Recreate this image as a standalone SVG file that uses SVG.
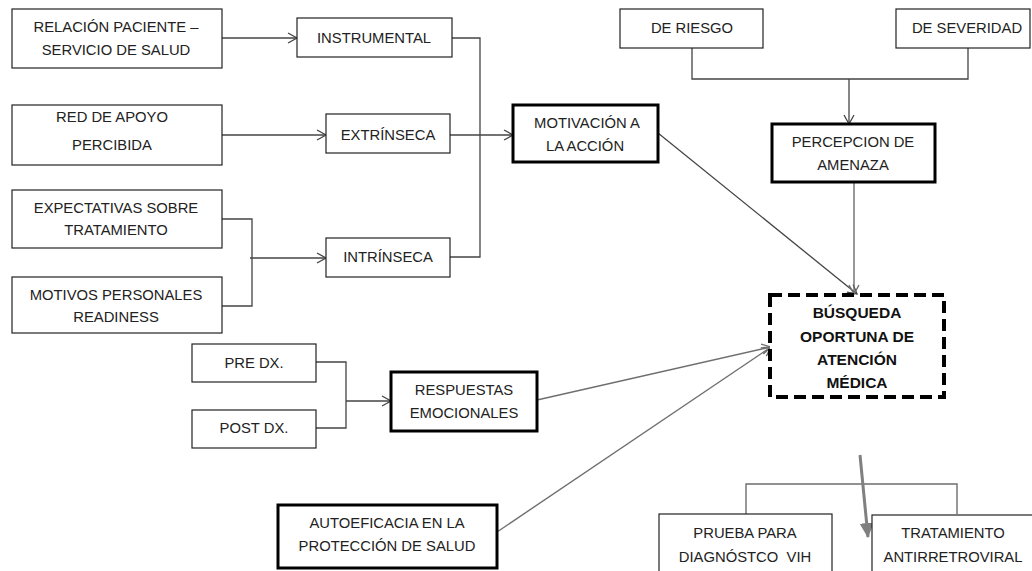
<svg xmlns="http://www.w3.org/2000/svg" width="1032" height="571" viewBox="0 0 1032 571">
  <style>
    .box { fill: #fff; stroke: #222; stroke-width: 1.2; }
    .thick { fill: #fff; stroke: #000; stroke-width: 3; }
    .dash { fill: #fff; stroke: #000; stroke-width: 4; stroke-dasharray: 12 6; }
    .lbl { font-family: "Liberation Sans", Arial, sans-serif; font-size: 14.8px; fill: #222; text-anchor: middle; }
    .bold { font-family: "Liberation Sans", Arial, sans-serif; font-size: 15.5px; font-weight: bold; fill: #111; text-anchor: middle; }
    .ln { fill: none; stroke: #444; stroke-width: 1.3; }
    .lg { fill: none; stroke: #6e6e6e; stroke-width: 1.4; }
    .lthick { fill: none; stroke: #808080; stroke-width: 3; }
  </style>
  <defs>
    <marker id="open" markerWidth="12" markerHeight="12" refX="10" refY="6" orient="auto" markerUnits="userSpaceOnUse">
      <path d="M1,1 L10,6 L1,11" fill="none" stroke="#444" stroke-width="1.3"/>
    </marker>
    <marker id="openg" markerWidth="12" markerHeight="12" refX="10" refY="6" orient="auto" markerUnits="userSpaceOnUse">
      <path d="M1,1 L10,6 L1,11" fill="none" stroke="#6e6e6e" stroke-width="1.4"/>
    </marker>
    <marker id="solid" markerWidth="16" markerHeight="16" refX="14" refY="8" orient="auto" markerUnits="userSpaceOnUse">
      <path d="M0,1 L15,8 L0,15 Z" fill="#808080"/>
    </marker>
  </defs>

  <rect width="1032" height="571" fill="#fff"/>

  <!-- connectors -->
  <g id="connectors">
    <path class="ln" d="M222,38 H297" marker-end="url(#open)"/>
    <path class="ln" d="M222,135 H326" marker-end="url(#open)"/>
    <path class="ln" d="M222,219 H252 V306 H222"/>
    <path class="ln" d="M250,258 H326" marker-end="url(#open)"/>
    <path class="ln" d="M452,38 H480 V257 H450"/>
    <path class="ln" d="M450,135 H513" marker-end="url(#open)"/>
    <path class="ln" d="M692,48 V79 H968 V48"/>
    <path class="ln" d="M849,79 V124" marker-end="url(#open)"/>
    <path class="ln" d="M658,133 L857,294" marker-end="url(#open)"/>
    <path class="lg" d="M854,182 V294" marker-end="url(#openg)"/>
    <path class="ln" d="M316,362 H346 V428 H316"/>
    <path class="ln" d="M346,401 H391" marker-end="url(#open)"/>
    <path class="lg" d="M537,400 L771,347" marker-end="url(#openg)"/>
    <path class="lg" d="M497,532 L771,347" marker-end="url(#openg)"/>
    <path class="lg" d="M746,514 V484 H957 V514"/>
    <path class="lthick" d="M860,455 L868,537" marker-end="url(#solid)"/>
  </g>

  <g id="relacion">
    <rect class="box" x="12" y="9" width="210" height="59"/>
    <text class="lbl" x="116" y="32">RELACIÓN PACIENTE –</text>
    <text class="lbl" x="116" y="55">SERVICIO DE SALUD</text>
  </g>
  <g id="instrumental">
    <rect class="box" x="297" y="18" width="155" height="39"/>
    <text class="lbl" x="374" y="43">INSTRUMENTAL</text>
  </g>
  <g id="red-apoyo">
    <rect class="box" x="12" y="105" width="210" height="60"/>
    <text class="lbl" x="112" y="122">RED DE APOYO</text>
    <text class="lbl" x="112" y="150">PERCIBIDA</text>
  </g>
  <g id="extrinseca">
    <rect class="box" x="326" y="114" width="124" height="39"/>
    <text class="lbl" x="388" y="140">EXTRÍNSECA</text>
  </g>
  <g id="expectativas">
    <rect class="box" x="12" y="190" width="210" height="58"/>
    <text class="lbl" x="116" y="213">EXPECTATIVAS SOBRE</text>
    <text class="lbl" x="116" y="235">TRATAMIENTO</text>
  </g>
  <g id="motivos">
    <rect class="box" x="12" y="277" width="210" height="56"/>
    <text class="lbl" x="116" y="300">MOTIVOS PERSONALES</text>
    <text class="lbl" x="116" y="322">READINESS</text>
  </g>
  <g id="intrinseca">
    <rect class="box" x="326" y="238" width="124" height="39"/>
    <text class="lbl" x="388" y="262">INTRÍNSECA</text>
  </g>
  <g id="motivacion">
    <rect class="thick" x="513" y="105" width="145" height="57"/>
    <text class="lbl" x="587" y="128">MOTIVACIÓN A</text>
    <text class="lbl" x="585" y="151">LA ACCIÓN</text>
  </g>
  <g id="de-riesgo">
    <rect class="box" x="620" y="9" width="143" height="39"/>
    <text class="lbl" x="692" y="33">DE RIESGO</text>
  </g>
  <g id="de-severidad">
    <rect class="box" x="896" y="9" width="134" height="39"/>
    <text class="lbl" x="967" y="33">DE SEVERIDAD</text>
  </g>
  <g id="percepcion">
    <rect class="thick" x="772" y="124" width="163" height="58"/>
    <text class="lbl" x="853" y="147">PERCEPCION DE</text>
    <text class="lbl" x="853" y="170">AMENAZA</text>
  </g>
  <g id="busqueda">
    <rect class="dash" x="770" y="295" width="174" height="102"/>
    <text class="bold" x="857" y="318">BÚSQUEDA</text>
    <text class="bold" x="857" y="342">OPORTUNA DE</text>
    <text class="bold" x="857" y="365">ATENCIÓN</text>
    <text class="bold" x="857" y="388">MÉDICA</text>
  </g>
  <g id="pre-dx">
    <rect class="box" x="192" y="344" width="124" height="38"/>
    <text class="lbl" x="254" y="368">PRE DX.</text>
  </g>
  <g id="post-dx">
    <rect class="box" x="192" y="410" width="124" height="38"/>
    <text class="lbl" x="254" y="433">POST DX.</text>
  </g>
  <g id="respuestas">
    <rect class="thick" x="391" y="372" width="146" height="59"/>
    <text class="lbl" x="464" y="395">RESPUESTAS</text>
    <text class="lbl" x="464" y="418">EMOCIONALES</text>
  </g>
  <g id="autoeficacia">
    <rect class="thick" x="278" y="505" width="219" height="63"/>
    <text class="lbl" x="387" y="528">AUTOEFICACIA EN LA</text>
    <text class="lbl" x="387" y="551">PROTECCIÓN DE SALUD</text>
  </g>
  <g id="prueba">
    <rect class="box" x="659" y="514" width="173" height="70"/>
    <text class="lbl" x="745" y="538">PRUEBA PARA</text>
    <text class="lbl" x="745" y="562" xml:space="preserve">DIAGNÓSTCO  VIH</text>
  </g>
  <g id="tratamiento">
    <rect class="box" x="872" y="515" width="170" height="70"/>
    <text class="lbl" x="953" y="538">TRATAMIENTO</text>
    <text class="lbl" x="953" y="562">ANTIRRETROVIRAL</text>
  </g>
</svg>
